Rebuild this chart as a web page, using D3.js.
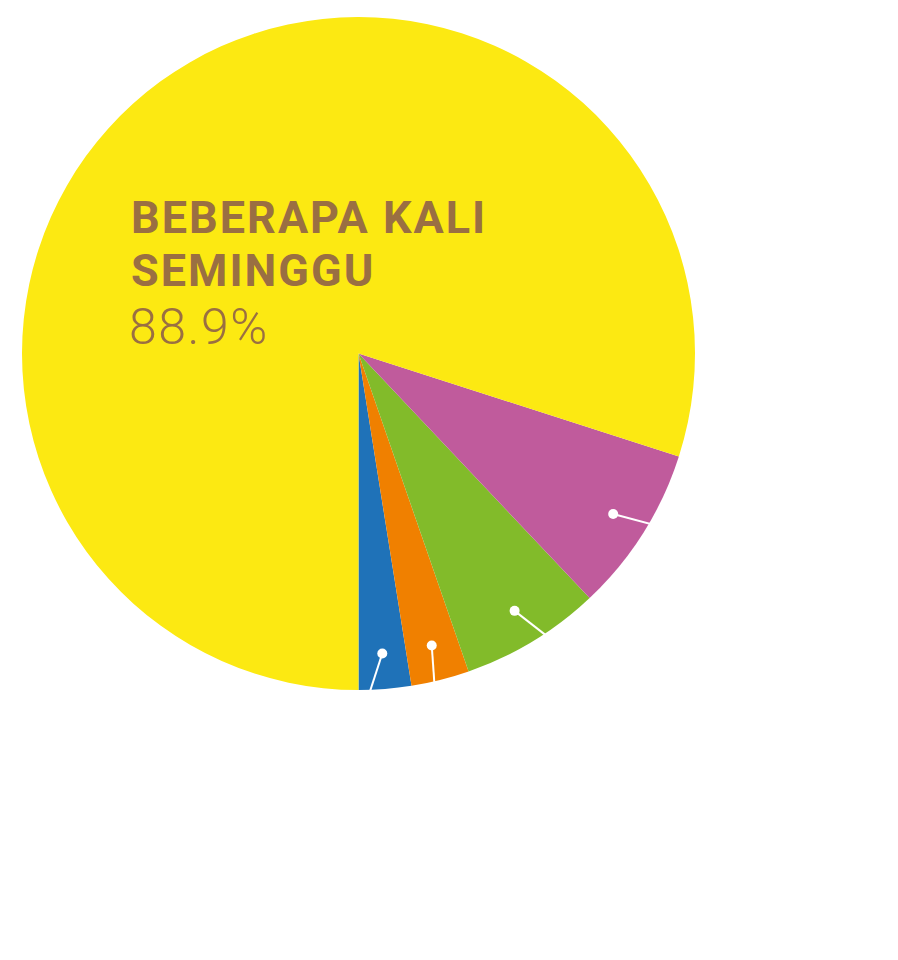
<!DOCTYPE html>
<html>
<head>
<meta charset="utf-8">
<script src="https://cdn.jsdelivr.net/npm/d3@7"></script>
<style>
    html, body { margin: 0; padding: 0; background: #fff; }
    svg { display: block; }
</style>
</head>
<body>
<svg width="898" height="960"></svg>
<script>
(function () {
    // slices from the bottom going counterclockwise
    var categories = ['Lainnya 1', 'Lainnya 2', 'Lainnya 3', 'Lainnya 4', 'Beberapa kali seminggu'];
    var values = [2.8, 3.1, 7.5, 8.9, 88.9];
    var colors = ['#1f72b8', '#f08000', '#82bb2a', '#c05b9c', '#fce912'];
    var labelLines = ['BEBERAPA KALI', 'SEMINGGU'];
    var labelValue = '88.9%';

    var svg = d3.select('svg');
    var cx = 358.5;
    var cy = 353.5;
    var radius = 336.5;
    // direction of the leader lines (degrees, clockwise from 12 o'clock)
    var leaderAngles = [198, 176, 128, 105];

    var pie = d3.pie()
        .sort(null)
        .value(function(d) { return d; })
        .startAngle(Math.PI)
        .endAngle(-Math.PI);

    var arc = d3.arc()
        .innerRadius(0)
        .outerRadius(radius);

    var g = svg.append('g')
        .attr('transform', `translate(${cx}, ${cy})`);

    var arcs = pie(values);

    g.selectAll('path')
        .data(arcs)
        .enter()
        .append('path')
        .attr('d', arc)
        .attr('fill', function(d, i) { return colors[i]; });

    // leader dots for the small slices
    var dotArc = d3.arc().innerRadius(301).outerRadius(301);
    var small = arcs.slice(0, 4);

    var leaders = g.selectAll('g.leader')
        .data(small)
        .enter()
        .append('g')
        .attr('class', 'leader');

    leaders.append('line')
        .attr('x1', function(d) { return dotArc.centroid(d)[0]; })
        .attr('y1', function(d) { return dotArc.centroid(d)[1]; })
        .attr('x2', function(d, i) {
            var a = leaderAngles[i] * Math.PI / 180;
            return dotArc.centroid(d)[0] + Math.sin(a) * 80;
        })
        .attr('y2', function(d, i) {
            var a = leaderAngles[i] * Math.PI / 180;
            return dotArc.centroid(d)[1] - Math.cos(a) * 80;
        })
        .attr('stroke', '#fff')
        .attr('stroke-width', 2);

    leaders.append('circle')
        .attr('cx', function(d) { return dotArc.centroid(d)[0]; })
        .attr('cy', function(d) { return dotArc.centroid(d)[1]; })
        .attr('r', 5)
        .attr('fill', '#fff');

    // main label: one text block, name lines + value
    var label = svg.append('text')
        .attr('fill', '#9a6f42')
        .style('font-family', 'Roboto, sans-serif');

    label.selectAll('tspan.name')
        .data(labelLines)
        .enter()
        .append('tspan')
        .attr('class', 'name')
        .attr('x', 131)
        .attr('y', function(d, i) { return 233 + i * 53; })
        .style('font-weight', 700)
        .style('font-size', '45px')
        .style('letter-spacing', '2px')
        .text(function(d) { return d; });

    label.append('tspan')
        .attr('x', 129)
        .attr('y', 344)
        .style('font-weight', 300)
        .style('font-size', '50px')
        .style('letter-spacing', '1.5px')
        .text(labelValue);
}());
</script>
</body>
</html>
